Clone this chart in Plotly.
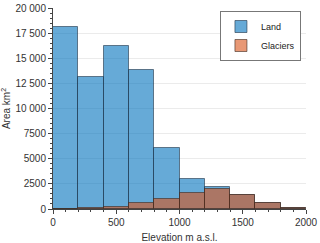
import plotly.graph_objects as go

bin_edges = [0, 200, 400, 600, 800, 1000, 1200, 1400, 1600, 1800, 2000]
land = [18100, 13100, 16200, 13800, 6100, 3000, 2200, 1400, 600, 100]
glaciers = [50, 100, 200, 550, 1000, 1600, 1950, 1400, 600, 100]
ytick_vals = [0, 2500, 5000, 7500, 10000, 12500, 15000, 17500, 20000]
ytick_text = ["0", "2500", "5000", "7500", "10 000", "12 500", "15 000", "17 500", "20 000"]
xtick_vals = [0, 500, 1000, 1500, 2000]

centers = [(a + b) / 2 for a, b in zip(bin_edges[:-1], bin_edges[1:])]
widths = [b - a for a, b in zip(bin_edges[:-1], bin_edges[1:])]

fig = go.Figure()
fig.add_trace(go.Bar(x=centers, y=land, width=widths, name="Land",
                     marker=dict(color="rgba(0,114,189,0.6)",
                                 line=dict(color="rgba(30,50,70,0.6)", width=1))))
fig.add_trace(go.Bar(x=centers, y=glaciers, width=widths, name="Glaciers",
                     marker=dict(color="rgba(217,83,25,0.6)",
                                 line=dict(color="rgba(60,40,30,0.6)", width=1))))

font = dict(family="Liberation Sans, Arial, sans-serif", size=10, color="#333333")
fig.update_layout(
    width=320, height=243, barmode="overlay", bargap=0,
    margin=dict(l=53, r=14, t=8, b=34, autoexpand=False),
    paper_bgcolor="white", plot_bgcolor="white",
    font=font,
    legend=dict(x=0.98, y=0.985, xanchor="right", yanchor="top",
                bgcolor="white", bordercolor="#777777", borderwidth=1,
                font=dict(size=9, color="#222222"), tracegroupgap=0,
                itemwidth=30),
    xaxis=dict(range=[0, 2000], tickvals=xtick_vals, showgrid=False,
               automargin=False,
               showline=True, linecolor="#444444", linewidth=1,
               ticks="outside", ticklen=4, tickcolor="#444444",
               minor=dict(dtick=100, ticks="outside", ticklen=2, tickcolor="#444444"),
               title=dict(text="Elevation m a.s.l.", standoff=6, font=dict(size=10)),
               zeroline=False),
    yaxis=dict(range=[0, 20000], tickvals=ytick_vals, ticktext=ytick_text,
               automargin=False,
               showgrid=True, gridcolor="#ebebeb", gridwidth=1,
               showline=True, linecolor="#444444", linewidth=1,
               ticks="outside", ticklen=4, tickcolor="#444444",
               minor=dict(dtick=500, ticks="outside", ticklen=2, tickcolor="#444444", showgrid=False),
               title=dict(text="Area km<sup>2</sup>", standoff=4, font=dict(size=10)),
               zeroline=False),
)
fig.write_html("out.html", config={"displayModeBar": False},
               post_script="document.body.style.margin='0';document.body.style.padding='0';")
